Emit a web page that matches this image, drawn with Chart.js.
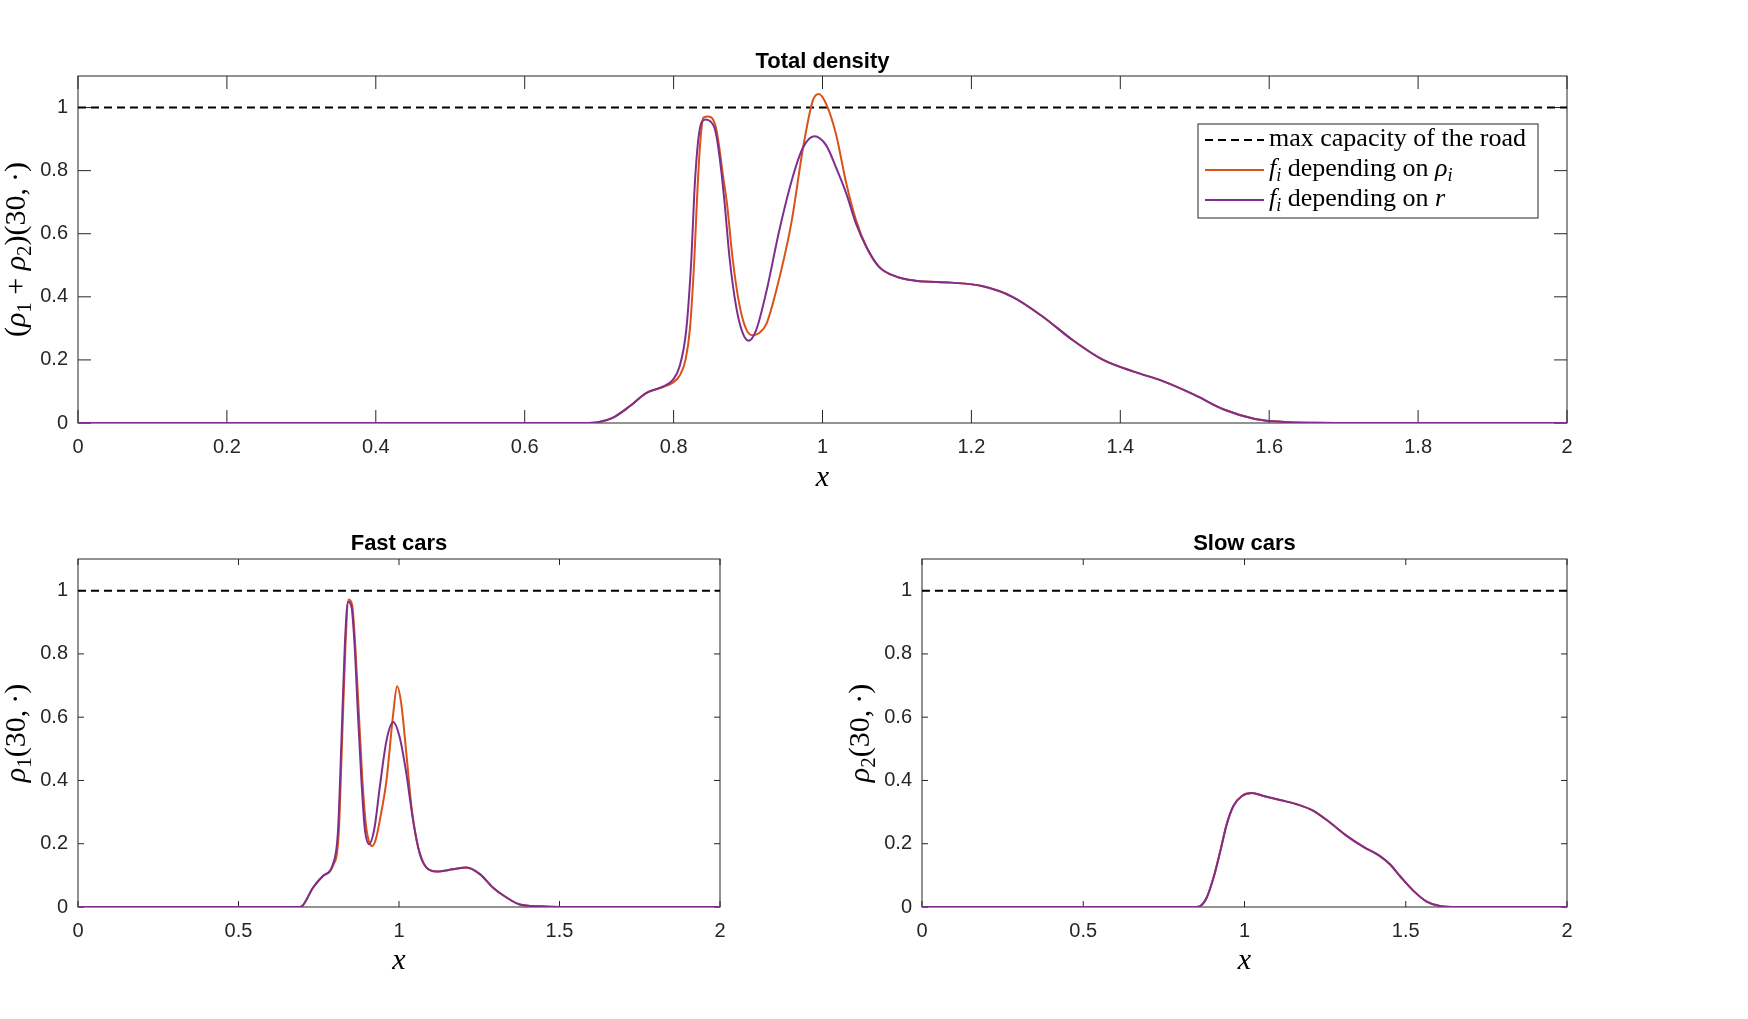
<!DOCTYPE html>
<html>
<head>
<meta charset="utf-8">
<title>Total density</title>
<script src="https://cdn.jsdelivr.net/npm/chart.js@4.4.1/dist/chart.umd.min.js"></script>
<style>
  html, body { margin: 0; padding: 0; background: #fff; }
  body { width: 1748px; height: 1019px; position: relative; overflow: hidden; }
  canvas { position: absolute; }
</style>
</head>
<body>
<canvas id="total" width="1748" height="500" style="left:0;top:0"></canvas>
<canvas id="fast" width="840" height="539" style="left:0;top:480px"></canvas>
<canvas id="slow" width="908" height="539" style="left:840px;top:480px"></canvas>
<script>
// values, density at t = 30

// total density, f_i depending on rho_i (orange)
const totalXRho = [0, 0.68, 0.70, 0.718, 0.741, 0.763, 0.786, 0.799, 0.808, 0.816, 0.822, 0.828, 0.832, 0.836, 0.840, 0.847, 0.853, 0.857, 0.861, 0.866, 0.872, 0.879, 0.888, 0.897, 0.906, 0.915, 0.925, 0.938, 0.958, 0.974, 0.987, 0.995, 1.005, 1.018, 1.032, 1.045, 1.059, 1.076, 1.099, 1.125, 1.173, 1.214, 1.255, 1.296, 1.336, 1.377, 1.418, 1.458, 1.499, 1.540, 1.581, 1.621, 1.662, 1.70, 2];
const totalRho = [0, 0, 0.003, 0.016, 0.053, 0.095, 0.114, 0.128, 0.150, 0.200, 0.300, 0.527, 0.737, 0.895, 0.968, 0.972, 0.962, 0.935, 0.880, 0.790, 0.690, 0.527, 0.380, 0.300, 0.278, 0.285, 0.316, 0.421, 0.632, 0.874, 1.022, 1.043, 1.011, 0.917, 0.759, 0.643, 0.558, 0.495, 0.464, 0.451, 0.445, 0.434, 0.400, 0.337, 0.263, 0.200, 0.163, 0.132, 0.090, 0.042, 0.013, 0.003, 0.0005, 0, 0];

// total density, f_i depending on r (purple)
const totalXR = [0, 0.68, 0.70, 0.718, 0.741, 0.763, 0.786, 0.799, 0.808, 0.817, 0.824, 0.828, 0.833, 0.838, 0.843, 0.850, 0.855, 0.859, 0.864, 0.869, 0.875, 0.884, 0.893, 0.901, 0.911, 0.925, 0.942, 0.960, 0.974, 0.989, 1.005, 1.018, 1.032, 1.045, 1.059, 1.076, 1.099, 1.125, 1.173, 1.214, 1.255, 1.296, 1.336, 1.377, 1.418, 1.458, 1.499, 1.540, 1.581, 1.621, 1.662, 1.70, 2];
const totalR = [0, 0, 0.003, 0.016, 0.053, 0.095, 0.116, 0.137, 0.179, 0.295, 0.527, 0.737, 0.895, 0.955, 0.962, 0.955, 0.935, 0.890, 0.800, 0.685, 0.527, 0.369, 0.284, 0.261, 0.295, 0.421, 0.611, 0.780, 0.874, 0.909, 0.880, 0.811, 0.727, 0.632, 0.558, 0.495, 0.464, 0.451, 0.445, 0.434, 0.400, 0.337, 0.263, 0.200, 0.163, 0.132, 0.090, 0.042, 0.013, 0.003, 0.0005, 0, 0];

// fast cars
const fastXRho = [0, 0.69, 0.701, 0.732, 0.763, 0.794, 0.812, 0.822, 0.833, 0.843, 0.854, 0.864, 0.875, 0.886, 0.897, 0.907, 0.917, 0.928, 0.940, 0.961, 0.982, 0.994, 1.007, 1.023, 1.039, 1.055, 1.065, 1.085, 1.117, 1.168, 1.210, 1.252, 1.293, 1.335, 1.376, 1.439, 1.5, 2];
const fastRho = [0, 0, 0.006, 0.061, 0.098, 0.130, 0.230, 0.505, 0.822, 0.972, 0.955, 0.822, 0.611, 0.400, 0.260, 0.205, 0.193, 0.215, 0.273, 0.400, 0.611, 0.698, 0.643, 0.484, 0.315, 0.209, 0.170, 0.125, 0.112, 0.119, 0.125, 0.104, 0.061, 0.030, 0.008, 0.002, 0, 0];
const fastXR = [0, 0.69, 0.701, 0.732, 0.763, 0.794, 0.810, 0.820, 0.831, 0.841, 0.852, 0.862, 0.872, 0.883, 0.893, 0.907, 0.924, 0.940, 0.961, 0.982, 1.002, 1.023, 1.044, 1.065, 1.085, 1.117, 1.168, 1.210, 1.252, 1.293, 1.335, 1.376, 1.439, 1.5, 2];
const fastR = [0, 0, 0.006, 0.061, 0.098, 0.135, 0.241, 0.505, 0.822, 0.965, 0.949, 0.822, 0.611, 0.400, 0.252, 0.199, 0.252, 0.378, 0.526, 0.585, 0.537, 0.421, 0.273, 0.167, 0.125, 0.112, 0.119, 0.125, 0.104, 0.061, 0.030, 0.008, 0.002, 0, 0];

// slow cars (both curves lie on top of each other)
const slowX = [0, 0.85, 0.863, 0.883, 0.904, 0.925, 0.945, 0.966, 0.992, 1.023, 1.059, 1.110, 1.162, 1.214, 1.265, 1.317, 1.369, 1.420, 1.451, 1.482, 1.524, 1.565, 1.606, 1.658, 2];
const slowRho = [0, 0, 0.003, 0.030, 0.093, 0.177, 0.262, 0.320, 0.351, 0.360, 0.351, 0.338, 0.325, 0.304, 0.267, 0.225, 0.190, 0.161, 0.135, 0.098, 0.051, 0.017, 0.003, 0, 0];
const slowR = [0, 0, 0.003, 0.030, 0.093, 0.177, 0.262, 0.320, 0.351, 0.360, 0.351, 0.338, 0.325, 0.304, 0.267, 0.225, 0.190, 0.161, 0.135, 0.098, 0.051, 0.017, 0.003, 0, 0];

// max capacity of the road
const capX = [0, 2];
const capY = [1, 1];

// ticks
const totalXTicks = [0, 0.2, 0.4, 0.6, 0.8, 1, 1.2, 1.4, 1.6, 1.8, 2];
const halfXTicks = [0, 0.5, 1, 1.5, 2];
const yTicks = [0, 0.2, 0.4, 0.6, 0.8, 1];

const SANS = '"Liberation Sans", Arial, sans-serif';
const SERIF = '"Liberation Serif", "Times New Roman", serif';
const ORANGE = '#D95319';
const PURPLE = '#7E2F8E';
const AXIS = '#262626';

const pts = (xs, ys) => xs.map((x, i) => ({ x: x, y: ys[i] }));

// rich text: [text, style] with style 'i' italic, 's' subscript
function partFont(p, size) {
  const fs = p[1].includes('s') ? size * 0.7 : size;
  return (p[1].includes('i') ? 'italic ' : '') + fs + 'px ' + SERIF;
}
function richWidth(ctx, parts, size) {
  let w = 0;
  parts.forEach(p => { ctx.font = partFont(p, size); w += ctx.measureText(p[0]).width; });
  return w;
}
function drawRich(ctx, parts, x, y, size) {
  ctx.textBaseline = 'alphabetic';
  ctx.textAlign = 'left';
  parts.forEach(p => {
    ctx.font = partFont(p, size);
    const dy = p[1].includes('s') ? size * 0.2 : 0;
    ctx.fillText(p[0], x, y + dy);
    x += ctx.measureText(p[0]).width;
  });
}

// box and inward ticks on all four sides, under the curves
const boxAxes = {
  id: 'boxAxes',
  beforeDatasetsDraw(chart, args, opts) {
    const { ctx, chartArea: a, scales } = chart;
    const len = opts.tickLen;
    ctx.save();
    ctx.strokeStyle = AXIS;
    ctx.lineWidth = 1;
    ctx.beginPath();
    scales.x.ticks.forEach(t => {
      const px = scales.x.getPixelForValue(t.value);
      ctx.moveTo(px, a.bottom); ctx.lineTo(px, a.bottom - len);
      ctx.moveTo(px, a.top); ctx.lineTo(px, a.top + len);
    });
    scales.y.ticks.forEach(t => {
      const py = scales.y.getPixelForValue(t.value);
      ctx.moveTo(a.left, py); ctx.lineTo(a.left + len, py);
      ctx.moveTo(a.right, py); ctx.lineTo(a.right - len, py);
    });
    ctx.stroke();
    ctx.strokeRect(a.left, a.top, a.right - a.left, a.bottom - a.top);
    ctx.restore();
  }
};

// y label and legend with math text
const mathText = {
  id: 'mathText',
  afterDraw(chart, args, opts) {
    const { ctx, chartArea: a } = chart;
    const size = 30;
    ctx.save();
    ctx.fillStyle = '#000';
    const w = richWidth(ctx, opts.yLabel, size);
    ctx.translate(a.left - 60 + size * 0.24, (a.top + a.bottom) / 2);
    ctx.rotate(-Math.PI / 2);
    drawRich(ctx, opts.yLabel, -w / 2, 0, size);
    ctx.restore();

    const lg = opts.legend;
    if (!lg) return;
    ctx.save();
    ctx.fillStyle = '#fff';
    ctx.fillRect(lg.x, lg.y, lg.w, lg.h);
    ctx.strokeStyle = AXIS;
    ctx.lineWidth = 1;
    ctx.strokeRect(lg.x, lg.y, lg.w, lg.h);
    chart.data.datasets.forEach((ds, i) => {
      const yy = lg.rows[i];
      ctx.strokeStyle = ds.borderColor;
      ctx.lineWidth = ds.borderWidth;
      ctx.setLineDash(ds.borderDash || []);
      ctx.beginPath();
      ctx.moveTo(lg.lineX[0], yy);
      ctx.lineTo(lg.lineX[1], yy);
      ctx.stroke();
      ctx.setLineDash([]);
      ctx.fillStyle = '#000';
      drawRich(ctx, ds.mathLabel, lg.textX, yy + lg.size * 0.22, lg.size);
    });
    ctx.restore();
  }
};

function datasets(xRho, yRho, xR, yR) {
  return [
    {
      label: 'max capacity of the road',
      mathLabel: [['max capacity of the road', '']],
      data: pts(capX, capY),
      borderColor: '#000', borderWidth: 2, borderDash: [8, 5], order: 3
    },
    {
      label: 'f_i depending on rho_i',
      mathLabel: [['f', 'i'], ['i', 'si'], [' depending on ', ''], ['\u03C1', 'i'], ['i', 'si']],
      data: pts(xRho, yRho),
      borderColor: ORANGE, borderWidth: 2, order: 2
    },
    {
      label: 'f_i depending on r',
      mathLabel: [['f', 'i'], ['i', 'si'], [' depending on ', ''], ['r', 'i']],
      data: pts(xR, yR),
      borderColor: PURPLE, borderWidth: 2, order: 1
    }
  ];
}

function makeChart(id, o) {
  return new Chart(document.getElementById(id), {
    type: 'line',
    data: { datasets: o.datasets },
    options: {
      responsive: false,
      animation: false,
      events: [],
      layout: { padding: { left: 0, right: o.padRight, top: 0, bottom: 0 } },
      elements: {
        point: { radius: 0 },
        line: { tension: 0.4, cubicInterpolationMode: 'monotone', fill: false }
      },
      scales: {
        x: {
          type: 'linear', min: 0, max: 2,
          afterBuildTicks: s => { s.ticks = o.xTicks.map(v => ({ value: v })); },
          afterFit: s => { s.height = o.xHeight; },
          grid: { display: false, drawTicks: false },
          border: { display: false },
          ticks: { padding: 12, autoSkip: false, maxRotation: 0, color: AXIS,
                   font: { family: SANS, size: 20 }, callback: v => String(v) },
          title: { display: true, text: 'x', color: '#000',
                   font: { family: SERIF, style: 'italic', size: 30, lineHeight: 1.2 },
                   padding: { top: 0, bottom: o.xTitlePad } }
        },
        y: {
          type: 'linear', min: 0, max: 1.1,
          afterBuildTicks: s => { s.ticks = yTicks.map(v => ({ value: v })); },
          afterFit: s => { s.width = o.yWidth; },
          grid: { display: false, drawTicks: false },
          border: { display: false },
          ticks: { padding: 10, color: AXIS, font: { family: SANS, size: 20 }, callback: v => String(v) }
        }
      },
      plugins: {
        legend: { display: false },
        tooltip: { enabled: false },
        title: {
          display: true, text: o.title, color: '#000', fullSize: false,
          font: { family: SANS, weight: 'bold', size: 22, lineHeight: 1.2 },
          padding: { top: o.titleTop, bottom: o.titleBottom }
        },
        boxAxes: { tickLen: o.tickLen },
        mathText: { yLabel: o.yLabel, legend: o.legend }
      }
    },
    plugins: [boxAxes, mathText]
  });
}

makeChart('total', {
  title: 'Total density',
  datasets: datasets(totalXRho, totalRho, totalXR, totalR),
  xTicks: totalXTicks,
  padRight: 181, yWidth: 78, xHeight: 77, xTitlePad: 3.5,
  titleTop: 48.3, titleBottom: 1.3, tickLen: 13,
  yLabel: [['(', ''], ['\u03C1', 'i'], ['1', 's'], [' + ', ''], ['\u03C1', 'i'], ['2', 's'], [')(30,\u2009\u00B7)', '']],
  legend: { x: 1198, y: 124, w: 340, h: 94, rows: [140, 170, 200], lineX: [1205, 1264], textX: 1269, size: 26 }
});

makeChart('fast', {
  title: 'Fast cars',
  datasets: datasets(fastXRho, fastRho, fastXR, fastR),
  xTicks: halfXTicks,
  padRight: 120, yWidth: 78, xHeight: 112, xTitlePad: 40,
  titleTop: 50.8, titleBottom: 1.8, tickLen: 6,
  yLabel: [['\u03C1', 'i'], ['1', 's'], ['(30,\u2009\u00B7)', '']]
});

makeChart('slow', {
  title: 'Slow cars',
  datasets: datasets(slowX, slowRho, slowX, slowR),
  xTicks: halfXTicks,
  padRight: 181, yWidth: 82, xHeight: 112, xTitlePad: 40,
  titleTop: 50.8, titleBottom: 1.8, tickLen: 6,
  yLabel: [['\u03C1', 'i'], ['2', 's'], ['(30,\u2009\u00B7)', '']]
});
</script>
</body>
</html>
